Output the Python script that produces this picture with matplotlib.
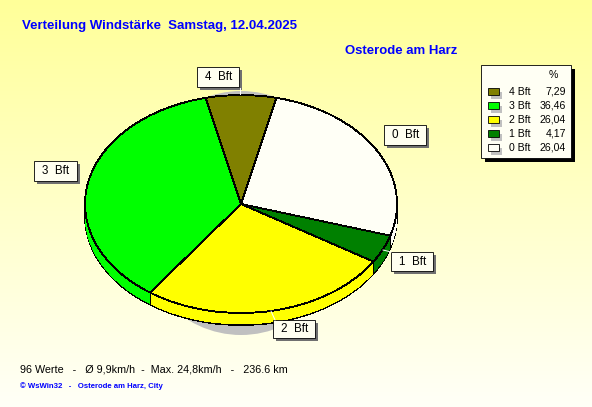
import numpy as np
import matplotlib
matplotlib.use('Agg')
import matplotlib.pyplot as plt
from matplotlib.patches import Rectangle, Ellipse

plt.rcParams['font.family'] = ['Liberation Sans', 'DejaVu Sans']

# Daten
labels = ['4 Bft', '3 Bft', '2 Bft', '1 Bft', '0 Bft']
werte = [7.29, 36.46, 26.04, 4.17, 26.04]
werte_text = ['7,29', '36,46', '26,04', '4,17', '26,04']
farben = ['#808000', '#00ff00', '#ffff00', '#008000', '#fffff6']
# Reihenfolge im Kreis (im Uhrzeigersinn ab 4 Bft)
kreis_idx = [0, 4, 3, 2, 1]

W, H = 592, 407
fig = plt.figure(figsize=(W / 100, H / 100), dpi=100)

# Hintergrund
bg = fig.add_axes([0, 0, 1, 1])
verlauf = np.ones((H, 1, 3))
verlauf[:, 0, 2] = np.linspace(0.6, 0.97, H)
bg.imshow(verlauf, aspect='auto', extent=(0, W, H, 0))
bg.set_xlim(0, W)
bg.set_ylim(H, 0)
bg.axis('off')

# Schatten unter dem Kreis
bg.add_patch(Ellipse((241, 213), 220, 244, fc='#c0c0c0', ec='none'))

# Kreis
cx, cy, rx, ry, tiefe = 241, 204, 156, 109, 12
kreis = fig.add_axes([(cx - rx) / W, (H - cy - ry) / H, 2 * rx / W, 2 * ry / H])
kreis.patch.set_alpha(0)
kreis_werte = [werte[i] for i in kreis_idx]
kreis_farben = [farben[i] for i in kreis_idx]
start = 90 + 13.1

for d in range(tiefe, 0, -1):
    rand = 'black' if d == tiefe else 'none'
    w, _ = kreis.pie(kreis_werte, colors=kreis_farben, startangle=start, counterclock=False,
                     center=(0, -d / ry), radius=1,
                     wedgeprops=dict(edgecolor=rand, linewidth=0.6, antialiased=False))
    for p in w:
        p.set_clip_on(False)
w, _ = kreis.pie(kreis_werte, colors=kreis_farben, startangle=start, counterclock=False,
                 wedgeprops=dict(edgecolor='black', linewidth=0.6, antialiased=False))
for p in w:
    p.set_clip_on(False)

# senkrechte Kanten vorn
winkel = start - np.cumsum(kreis_werte) * 3.6
for a in winkel:
    x, y = np.cos(np.radians(a)), np.sin(np.radians(a))
    if y < 0:
        kreis.plot([x, x], [y, y - tiefe / ry], color='black', lw=0.6, clip_on=False, antialiased=False)
kreis.set_aspect('auto')
kreis.set_xlim(-1, 1)
kreis.set_ylim(-1, 1)
kreis.axis('off')

# Oberste Ebene: Texte, Beschriftungen, Legende
top = fig.add_axes([0, 0, 1, 1])
top.patch.set_alpha(0)
top.set_xlim(0, W)
top.set_ylim(H, 0)
top.axis('off')

top.text(22, 26.5, 'Verteilung Windstärke  Samstag, 12.04.2025', color='#0000ff', fontsize=9.55,
         fontweight='bold', va='center')
top.text(345, 51, 'Osterode am Harz', color='#0000ff', fontsize=9.45, fontweight='bold', va='center')
top.text(20, 369, '96 Werte   -   Ø 9,9km/h  -  Max. 24,8km/h   -   236.6 km', color='black',
         fontsize=7.75, va='center')
top.text(20, 386, '© WsWin32   -   Osterode am Harz, City', color='#0000ff', fontsize=5.6,
         fontweight='bold', va='center')

# Beschriftungskaesten
boxen = {'4 Bft': (197, 67, 42, 20), '3 Bft': (34, 161, 43, 20), '0 Bft': (384, 125, 42, 20),
         '1 Bft': (391, 252, 42, 19), '2 Bft': (273, 320, 42, 18)}
leader = {'4 Bft': (240, 88, 240, 94), '1 Bft': (383, 250, 391, 252), '2 Bft': (271, 311, 275, 320)}
for name, (x, y, b, h) in boxen.items():
    top.add_patch(Rectangle((x + 3, y + 3), b, h, fc='#707070', ec='none'))
    top.add_patch(Rectangle((x, y), b, h, fc='#fffff0', ec='black', lw=0.6))
    top.text(x + b / 2 + 0.5, y + h / 2 + 0.5, name.replace(' ', '  '), ha='center', va='center',
             fontsize=8.4, color='black')
for x0, y0, x1, y1 in leader.values():
    top.plot([x0, x1], [y0, y1], color='white', lw=0.7)

# Legende
top.add_patch(Rectangle((485, 69), 90, 93, fc='black', ec='none'))
top.add_patch(Rectangle((481, 65), 90, 93, fc='#fffff4', ec='black', lw=0.6))
top.text(553, 75, '%', ha='center', va='center', fontsize=7.6)
for i, name in enumerate(labels):
    y = 91 + i * 14
    top.add_patch(Rectangle((491, y + 1), 11, 7, fc='#c0c0c0', ec='none'))
    top.add_patch(Rectangle((488, y - 3), 11, 7, fc=farben[i], ec='black', lw=0.6))
    top.text(509, y + 1, name, va='center', fontsize=7.6)
    top.text(566, y + 1, werte_text[i], va='center', ha='right', fontsize=7.6)

fig.savefig('out.png', dpi=100)
